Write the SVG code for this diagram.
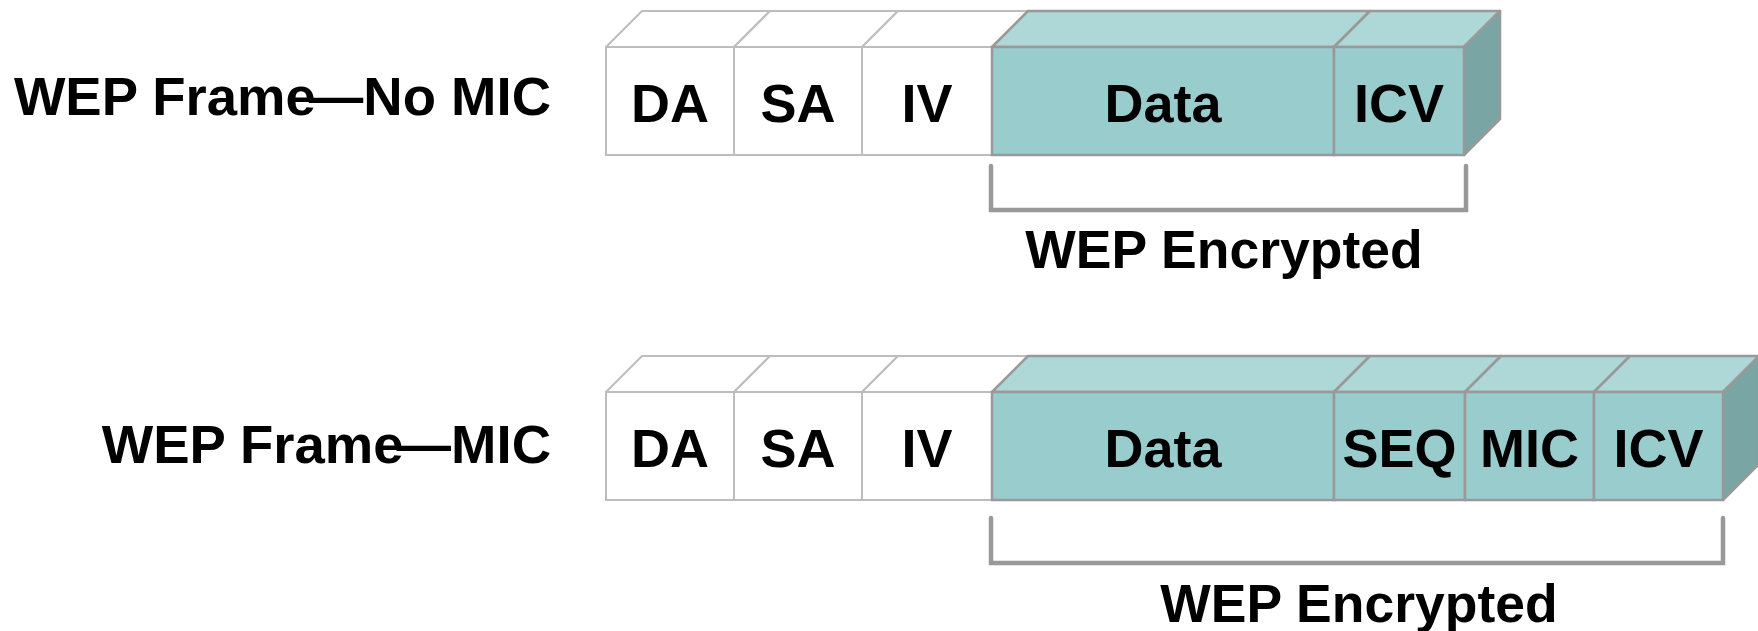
<svg xmlns="http://www.w3.org/2000/svg" width="1758" height="631" viewBox="0 0 1758 631">
  <style>
    .lbl { font-family: "Liberation Sans", Arial, sans-serif; font-weight: bold; fill: #000; }
    .title { font-size: 54.5px; text-anchor: end; }
    .cell-t { font-size: 54px; text-anchor: middle; }
    .enc { font-size: 53.5px; text-anchor: middle; }
    .w-front { fill: #ffffff; stroke: #bdbdbd; stroke-width: 2; }
    .w-top { fill: #ffffff; stroke: #bdbdbd; stroke-width: 2; stroke-linejoin: round; }
    .t-front { fill: #99cccc; stroke: #999999; stroke-width: 2.5; }
    .t-top { fill: #aed8d8; stroke: #999999; stroke-width: 2.5; stroke-linejoin: round; }
    .t-side { fill: #7aa5a5; stroke: #999999; stroke-width: 2.5; stroke-linejoin: round; }
    .brace { fill: none; stroke: #999999; stroke-width: 4.5; stroke-linecap: round; stroke-linejoin: miter; }
  </style>

  <!-- Row labels (dash tucked slightly into the preceding letter) -->
  <text id="label-nomic" class="lbl title" x="551" y="115">WEP Frame<tspan dx="-7">—No MIC</tspan></text>
  <text id="label-mic" class="lbl title" x="551" y="463">WEP Frame<tspan dx="-7">—MIC</tspan></text>

  <!-- Frame without MIC: front y 47..155, depth 36 -->
  <g id="f1-da">
    <polygon class="w-top" points="606,47 642,11 770,11 734,47"/>
    <rect class="w-front" x="606" y="47" width="128" height="108"/>
    <text class="lbl cell-t" x="670" y="122">DA</text>
  </g>
  <g id="f1-sa">
    <polygon class="w-top" points="734,47 770,11 898,11 862,47"/>
    <rect class="w-front" x="734" y="47" width="128" height="108"/>
    <text class="lbl cell-t" x="798" y="122">SA</text>
  </g>
  <g id="f1-iv">
    <polygon class="w-top" points="862,47 898,11 1028,11 992,47"/>
    <rect class="w-front" x="862" y="47" width="130" height="108"/>
    <text class="lbl cell-t" x="927" y="122">IV</text>
  </g>
  <g id="f1-data">
    <polygon class="t-top" points="992,47 1028,11 1370,11 1334,47"/>
    <rect class="t-front" x="992" y="47" width="342" height="108"/>
    <text class="lbl cell-t" x="1163" y="122">Data</text>
  </g>
  <g id="f1-icv">
    <polygon class="t-top" points="1334,47 1370,11 1500,11 1464,47"/>
    <polygon class="t-side" points="1464,47 1500,11 1500,119 1464,155"/>
    <rect class="t-front" x="1334" y="47" width="130" height="108"/>
    <text class="lbl cell-t" x="1399" y="122">ICV</text>
  </g>

  <!-- Frame with MIC: front y 392..500, depth 36 -->
  <g id="f2-da">
    <polygon class="w-top" points="606,392 642,356 770,356 734,392"/>
    <rect class="w-front" x="606" y="392" width="128" height="108"/>
    <text class="lbl cell-t" x="670" y="467">DA</text>
  </g>
  <g id="f2-sa">
    <polygon class="w-top" points="734,392 770,356 898,356 862,392"/>
    <rect class="w-front" x="734" y="392" width="128" height="108"/>
    <text class="lbl cell-t" x="798" y="467">SA</text>
  </g>
  <g id="f2-iv">
    <polygon class="w-top" points="862,392 898,356 1028,356 992,392"/>
    <rect class="w-front" x="862" y="392" width="130" height="108"/>
    <text class="lbl cell-t" x="927" y="467">IV</text>
  </g>
  <g id="f2-data">
    <polygon class="t-top" points="992,392 1028,356 1370,356 1334,392"/>
    <rect class="t-front" x="992" y="392" width="342" height="108"/>
    <text class="lbl cell-t" x="1163" y="467">Data</text>
  </g>
  <g id="f2-seq">
    <polygon class="t-top" points="1334,392 1370,356 1501,356 1465,392"/>
    <rect class="t-front" x="1334" y="392" width="131" height="108"/>
    <text class="lbl cell-t" x="1399.5" y="467">SEQ</text>
  </g>
  <g id="f2-mic">
    <polygon class="t-top" points="1465,392 1501,356 1630,356 1594,392"/>
    <rect class="t-front" x="1465" y="392" width="129" height="108"/>
    <text class="lbl cell-t" x="1529.5" y="467">MIC</text>
  </g>
  <g id="f2-icv">
    <polygon class="t-top" points="1594,392 1630,356 1759,356 1723,392"/>
    <polygon class="t-side" points="1723,392 1759,356 1759,464 1723,500"/>
    <rect class="t-front" x="1594" y="392" width="129" height="108"/>
    <text class="lbl cell-t" x="1658.5" y="467">ICV</text>
  </g>

  <!-- Encryption span brackets -->
  <g id="connectors">
    <path class="brace" d="M991,166 V210 H1466 V166"/>
    <path class="brace" d="M991,518 V563 H1723 V518"/>
  </g>

  <text id="enc-nomic" class="lbl enc" x="1224" y="268">WEP Encrypted</text>
  <text id="enc-mic" class="lbl enc" x="1359" y="622">WEP Encrypted</text>
</svg>
